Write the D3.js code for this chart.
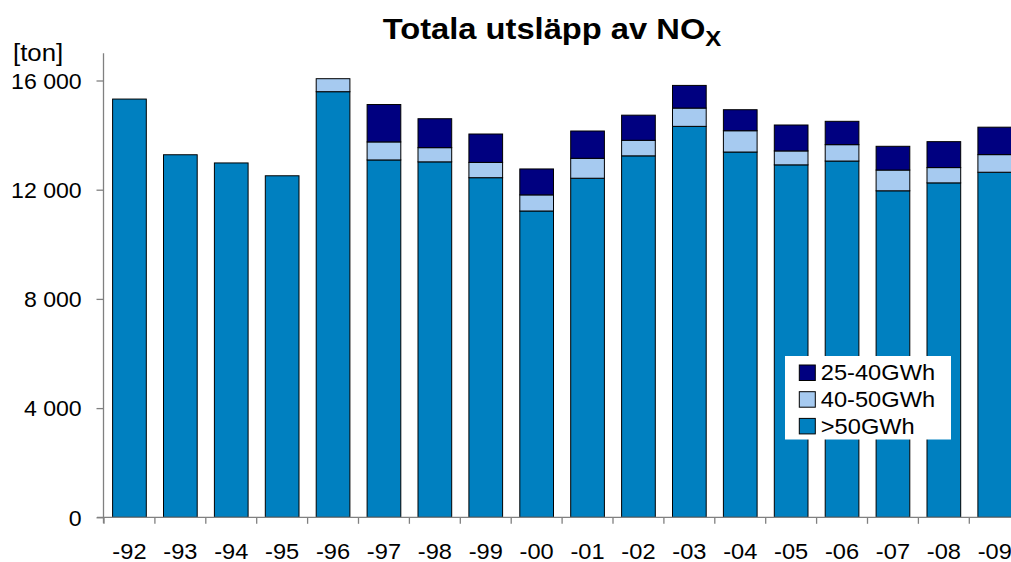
<!DOCTYPE html>
<html>
<head>
<meta charset="utf-8">
<script src="https://cdn.jsdelivr.net/npm/d3@7"></script>
<style>
  body { margin: 0; background: #fff; }
  svg { display: block; font-family: "Liberation Sans", Arial, sans-serif; }
</style>
</head>
<body>
<svg id="chart" width="1011" height="562"></svg>
<script>
// values (ton NOx per year)
const years = ["-92", "-93", "-94", "-95", "-96", "-97", "-98", "-99", "-00",
               "-01", "-02", "-03", "-04", "-05", "-06", "-07", "-08", "-09"];
const over50 = [15320, 13280, 12980, 12510, 15590, 13090, 13020, 12440, 11220,
                12420, 13240, 14320, 13380, 12910, 13050, 11960, 12250, 12640];
const gwh40to50 = [0, 0, 0, 0, 476, 660, 520, 560, 590,
                   730, 570, 670, 780, 510, 600, 760, 560, 645];
const gwh25to40 = [0, 0, 0, 0, 0, 1370, 1060, 1040, 950,
                   1000, 920, 830, 770, 950, 855, 870, 950, 1005];
const yTicks = [0, 4000, 8000, 12000, 16000];
const seriesKeys = [">50GWh", "40-50GWh", "25-40GWh"];
const seriesColors = ["#0080C0", "#A6CAF0", "#000080"];

const svg = d3.select("#chart");
const stretch = 1.075; // reference text is a bit wide

// build table for the stack
const table = years.map((yr, i) => ({
    year: yr,
    ">50GWh": over50[i],
    "40-50GWh": gwh40to50[i],
    "25-40GWh": gwh25to40[i]
}));

const x = d3.scaleBand()
    .domain(years)
    .range([104, 1020.2])
    .paddingInner(0.338)
    .paddingOuter(0.169);

const y = d3.scaleLinear()
    .domain([0, 17000])
    .range([517.3, 53.2]);

const color = d3.scaleOrdinal().domain(seriesKeys).range(seriesColors);

const fmt = d3.formatLocale({ decimal: ",", thousands: " ", grouping: [3], currency: ["", ""] }).format(",");

const stacked = d3.stack().keys(seriesKeys)(table);

// bars
svg.append("g")
    .selectAll("g")
    .data(stacked)
    .join("g")
    .attr("fill", d => color(d.key))
    .selectAll("rect")
    .data(d => d.filter(s => s[1] - s[0] > 0))
    .join("rect")
    .attr("x", d => x(d.data.year))
    .attr("width", x.bandwidth())
    .attr("y", d => y(d[1]))
    .attr("height", d => y(d[0]) - y(d[1]))
    .attr("stroke", "#000")
    .attr("stroke-width", 1);

// y axis
const yAxis = svg.append("g")
    .attr("transform", "translate(103.5,0)")
    .call(d3.axisLeft(y).tickValues(yTicks).tickFormat(fmt).tickSize(7).tickSizeOuter(0));
yAxis.select(".domain").attr("stroke", "#808080").attr("stroke-width", 1.3)
    .attr("d", `M0,${y.range()[1]}V${y(0) + 6}`);
yAxis.selectAll(".tick line").attr("stroke", "#808080").attr("stroke-width", 1.3);
yAxis.selectAll(".tick text")
    .attr("x", -21.8 / stretch)
    .attr("dy", "0.36em")
    .attr("transform", `scale(${stretch},1)`)
    .attr("font-size", 21.5)
    .attr("font-family", "'Liberation Sans', Arial, sans-serif")
    .attr("fill", "#000");

// x axis: line, boundary ticks, labels
const xAxis = svg.append("g").attr("transform", `translate(0,${y(0)})`);
xAxis.append("line")
    .attr("x1", 97).attr("x2", 1011)
    .attr("stroke", "#808080").attr("stroke-width", 1.3);
xAxis.selectAll(".bound")
    .data(d3.range(years.length + 1))
    .join("line")
    .attr("class", "bound")
    .attr("x1", i => x.range()[0] + i * x.step())
    .attr("x2", i => x.range()[0] + i * x.step())
    .attr("y1", 0).attr("y2", 6.5)
    .attr("stroke", "#808080").attr("stroke-width", 1.3);
xAxis.selectAll(".lbl")
    .data(years)
    .join("text")
    .attr("class", "lbl")
    .attr("transform", d => `translate(${x(d) + x.bandwidth() / 2},41.8) scale(${stretch},1)`)
    .attr("text-anchor", "middle")
    .attr("font-size", 22)
    .text(d => d);

// unit label
svg.append("text")
    .attr("transform", `translate(13,60.5) scale(${stretch},1)`)
    .attr("font-size", 24)
    .text("[ton]");

// title with subscript
const title = svg.append("text")
    .attr("transform", `translate(382.7,39) scale(1.09,1)`)
    .attr("font-size", 30)
    .attr("font-weight", "bold");
title.append("tspan").text("Totala utsläpp av NO");
title.append("tspan").attr("font-size", 22).attr("dy", 6.5).text("X");

// legend
const legend = svg.append("g").attr("transform", "translate(785,356)");
legend.append("rect")
    .attr("width", 166).attr("height", 83.5)
    .attr("fill", "#fff");
const entries = legend.selectAll(".entry")
    .data(seriesKeys.slice().reverse())
    .join("g")
    .attr("class", "entry")
    .attr("transform", (d, i) => `translate(14.3,${9 + i * 26.7})`);
entries.append("rect")
    .attr("width", 16).attr("height", 15.5)
    .attr("fill", d => color(d))
    .attr("stroke", "#000").attr("stroke-width", 1);
entries.append("text")
    .attr("transform", `translate(21.5,15.2) scale(${stretch},1)`)
    .attr("font-size", 22)
    .text(d => d);
</script>
</body>
</html>
